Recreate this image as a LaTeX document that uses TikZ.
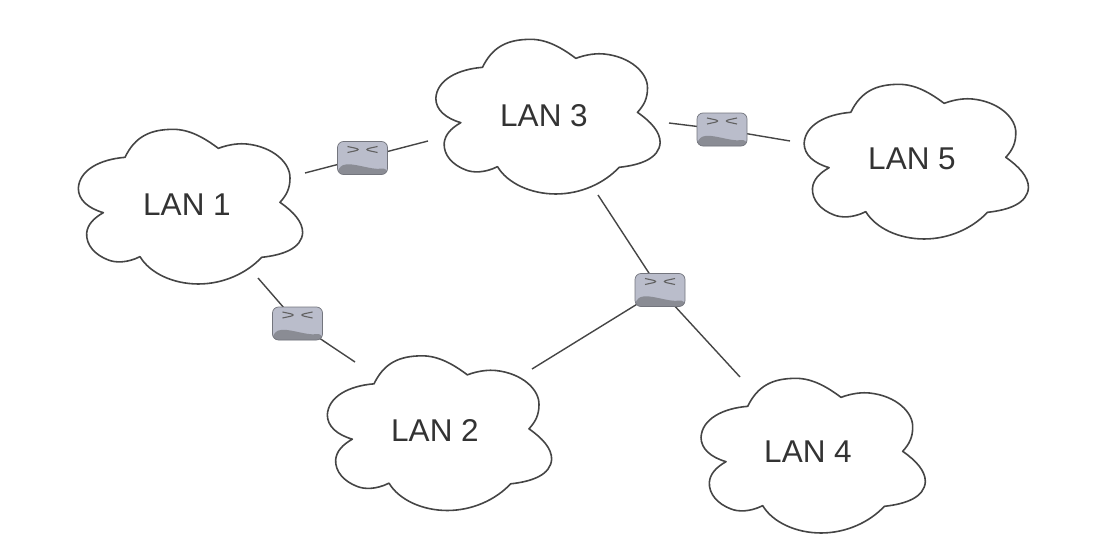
\documentclass[tikz,border=0pt]{standalone}
\usepackage{fontspec}
\setmainfont{Liberation Sans}
\usetikzlibrary{backgrounds}
\definecolor{inkline}{HTML}{454545}
\definecolor{labelink}{HTML}{333333}
\definecolor{routerbody}{HTML}{BABDCB}
\definecolor{routerlow}{HTML}{8A8C94}
\definecolor{routeredge}{HTML}{73757D}
\newcommand{\cloudoutline}[2]{%
  \begin{scope}[shift={(#1,#2)},x=0.3333pt,y=-0.3333pt]
    \draw[cloudline]
      (195,112) .. controls (225,50) and (270,28) .. (340,28)
      .. controls (390,28) and (435,55) .. (475,85)
      .. controls (510,72) and (540,70) .. (560,72)
      .. controls (640,80) and (692,130) .. (690,175)
      .. controls (690,205) and (680,225) .. (660,247)
      .. controls (700,275) and (728,305) .. (728,338)
      .. controls (725,385) and (670,405) .. (605,412)
      .. controls (560,460) and (490,492) .. (415,492)
      .. controls (340,492) and (270,460) .. (240,410)
      .. controls (200,430) and (165,428) .. (145,420)
      .. controls (105,405) and (78,375) .. (80,340)
      .. controls (82,315) and (100,295) .. (130,278)
      .. controls (85,265) and (55,240) .. (55,205)
      .. controls (58,150) and (120,118) .. (195,112) -- cycle;
  \end{scope}}
\tikzset{
  cloudline/.style={draw=inkline,line width=1.6pt,line join=round},
  lanlabel/.style={font=\fontsize{31.5}{34}\selectfont,text=labelink,inner sep=0pt},
  linkline/.style={draw=inkline,line width=1.4pt},
  routerbox/.style={
    rectangle,rounded corners=6pt,minimum width=50pt,minimum height=33pt,inner sep=0pt,
    fill=routerbody,draw=routeredge,line width=0.7pt,
    path picture={
      \fill[routerlow] ([yshift=7pt]path picture bounding box.south west)
        .. controls ([xshift=14pt,yshift=13pt]path picture bounding box.south west)
        and ([xshift=-16pt,yshift=4pt]path picture bounding box.south east)
        .. ([yshift=7pt]path picture bounding box.south east)
        -- (path picture bounding box.south east) -- (path picture bounding box.south west) -- cycle;
      \draw[black!62,line width=1.1pt]
        ([xshift=-15pt,yshift=-5pt]path picture bounding box.north) --
        ([xshift=-1pt,yshift=-8pt]path picture bounding box.north) --
        ([xshift=-15pt,yshift=-11pt]path picture bounding box.north);
      \draw[black!62,line width=1.1pt]
        ([xshift=15pt,yshift=-5pt]path picture bounding box.north) --
        ([xshift=1pt,yshift=-8pt]path picture bounding box.north) --
        ([xshift=15pt,yshift=-11pt]path picture bounding box.north);
    }}
}
\begin{document}
\begin{tikzpicture}[x=1pt,y=-1pt]
\useasboundingbox (0,0) rectangle (1116,554);
\cloudoutline{60}{120}
\cloudoutline{417.5}{30}
\cloudoutline{785.8}{75}
\cloudoutline{309}{346.5}
\cloudoutline{682.7}{369}
\node[lanlabel] (lan1) at (187,205) {LAN 1};
\node[lanlabel] (lan3) at (544,116) {LAN 3};
\node[lanlabel] (lan5) at (912,159) {LAN 5};
\node[lanlabel] (lan2) at (435,430) {LAN 2};
\node[lanlabel] (lan4) at (808,452) {LAN 4};
\node[routerbox] (r1) at (362.5,158) {};
\node[routerbox] (r2) at (722,129.5) {};
\node[routerbox] (r3) at (660,290) {};
\node[routerbox] (r4) at (297.5,323.5) {};
\coordinate (e1a) at (305,173);
\coordinate (e1b) at (428,141);
\coordinate (e2a) at (669,123);
\coordinate (e2b) at (790,141);
\coordinate (e3a) at (598,195);
\coordinate (e3b) at (532,369);
\coordinate (e3c) at (740,377);
\coordinate (e4a) at (258,278);
\coordinate (e4b) at (355,362);
\begin{scope}[on background layer]
  \draw[linkline] (e1a) -- (r1.center);
  \draw[linkline] (r1.center) -- (e1b);
  \draw[linkline] (e2a) -- (r2.center);
  \draw[linkline] (r2.center) -- (e2b);
  \draw[linkline] (e3a) -- (r3.center);
  \draw[linkline] (e3b) -- (r3.center);
  \draw[linkline] (r3.center) -- (e3c);
  \draw[linkline] (e4a) -- (r4.center);
  \draw[linkline] (r4.center) -- (e4b);
\end{scope}
\end{tikzpicture}
\end{document}
